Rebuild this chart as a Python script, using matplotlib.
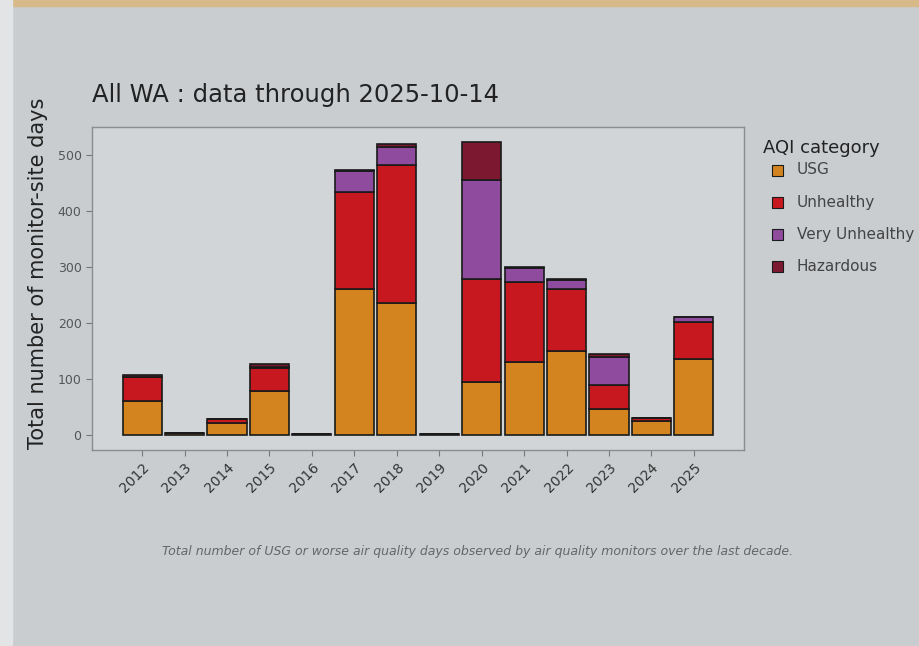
import matplotlib
matplotlib.use("Agg")
import matplotlib.pyplot as plt
from matplotlib.patches import Rectangle
import numpy as np

years = ["2012", "2013", "2014", "2015", "2016", "2017", "2018", "2019",
         "2020", "2021", "2022", "2023", "2024", "2025"]
usg = [60, 3, 21, 79, 2, 261, 235, 2, 95, 131, 149, 46, 24, 136]
unhealthy = [43, 0, 7, 40, 0, 172, 247, 0, 183, 142, 111, 43, 6, 66]
very_unhealthy = [0, 0, 0, 2, 0, 38, 33, 0, 177, 26, 17, 51, 0, 9]
hazardous = [4, 0, 0, 6, 0, 3, 5, 0, 69, 1, 1, 4, 0, 0]

categories = ["USG", "Unhealthy", "Very Unhealthy", "Hazardous"]
colors = ["#d4841f", "#c8181f", "#8f4b9e", "#7c1930"]
yticks = [0, 100, 200, 300, 400, 500]

W, H = 920, 646
fig = plt.figure(figsize=(W / 100, H / 100), dpi=100)
fig.patch.set_facecolor("#c9cdd0")
# photo frame details
fig.add_artist(Rectangle((0, 1 - 6 / H), 1, 6 / H, transform=fig.transFigure,
                         color="#d8b98a", zorder=0))
fig.add_artist(Rectangle((0, 0), 12 / W, 1, transform=fig.transFigure,
                         color="#e2e4e6", zorder=0))

ax = fig.add_axes([92 / W, 1 - 450 / H, (744 - 92) / W, (450 - 127) / H])
ax.set_facecolor("#d2d5d7")

x = np.arange(len(years))
series = [usg, unhealthy, very_unhealthy, hazardous]
bottom = np.zeros(len(years))
for vals, col, lab in zip(series, colors, categories):
    v = np.array(vals, dtype=float)
    ax.bar(x, v, bottom=bottom, width=0.92, color=col, edgecolor="#1a1a1a",
           linewidth=1.2, label=lab)
    bottom += v

ax.set_xlim(-1.18, len(years) - 1 + 1.18)
ax.set_ylim(-27, 550)
ax.set_yticks(yticks)
ax.set_yticklabels([str(t) for t in yticks], color="#555555", fontsize=9)
ax.set_xticks(x)
ax.set_xticklabels(years, rotation=45, ha="right", rotation_mode="anchor",
                   color="#333333", fontsize=10)
ax.tick_params(axis="both", color="#777777", length=4)
for s in ax.spines.values():
    s.set_color("#8a8c8e")
    s.set_linewidth(1.0)

fig.text(38 / W, 1 - 273 / H, "Total number of monitor-site days",
         fontsize=15, color="#222222", rotation=90, ha="center", va="center")

fig.text(92 / W, 1 - 95 / H, "All WA : data through 2025-10-14",
         fontsize=17.5, color="#222222", va="center", ha="left")

# legend (drawn with figure text + patches)
fig.text(763 / W, 1 - 148 / H, "AQI category", fontsize=13, color="#222222",
         ha="left", va="center")
for i, (lab, col) in enumerate(zip(categories, colors)):
    yc = 170 + i * 32.3
    fig.add_artist(Rectangle(((772) / W, 1 - (yc + 5.5) / H), 11 / W, 11 / H,
                             transform=fig.transFigure, facecolor=col,
                             edgecolor="#1a1a1a", linewidth=0.8))
    fig.text(797 / W, 1 - yc / H, lab, fontsize=11, color="#444444",
             ha="left", va="center")

fig.text(478 / W, 1 - 551 / H,
         "Total number of USG or worse air quality days observed by air quality monitors over the last decade.",
         fontsize=9, style="italic", color="#666666", ha="center", va="center")

fig.savefig("out.png", dpi=100, facecolor=fig.get_facecolor())
